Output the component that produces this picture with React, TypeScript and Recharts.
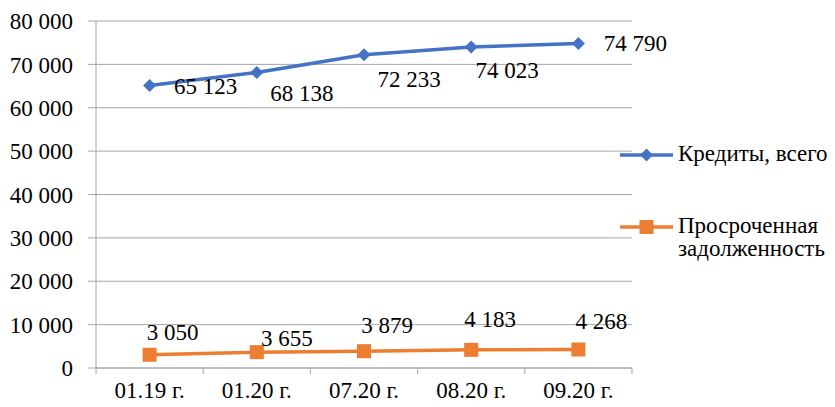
import React from 'react';
import { LineChart, Line, XAxis, YAxis, CartesianGrid, LabelList } from 'recharts';

const categories = ['01.19 г.', '01.20 г.', '07.20 г.', '08.20 г.', '09.20 г.'];
const credits = [65123, 68138, 72233, 74023, 74790];
const overdue = [3050, 3655, 3879, 4183, 4268];
const yTicks = [0, 10000, 20000, 30000, 40000, 50000, 60000, 70000, 80000];
const seriesNames = ['Кредиты, всего', 'Просроченная задолженность'];

// hand-placed label offsets, as in the source chart
const creditsLabelDx = [56, 45, 45, 36, 57];
const creditsLabelDy = [1, 21, 25, 24, 0];
const overdueLabelDx = [23, 30, 23, 19, 23];
const overdueLabelDy = [-22, -14, -26, -30, -28];

const data = categories.map((period, i) => ({
  period,
  credits: credits[i],
  overdue: overdue[i],
}));

const FONT = "'Liberation Serif', 'Times New Roman', Times, Tinos, 'DejaVu Serif', 'Noto Serif', serif";
const BLUE = '#4472C4';
const ORANGE = '#ED7D31';
const GRID = '#A6A6A6';
const HALF_BAND = 53.6;

const fmt = (n: number) => String(n).replace(/\B(?=(\d{3})+(?!\d))/g, ' ');

const Diamond = (props: any) => {
  const { cx, cy } = props;
  if (cx == null || cy == null) return null;
  const r = 6.5;
  return <path d={`M${cx},${cy - r}L${cx + r},${cy}L${cx},${cy + r}L${cx - r},${cy}Z`} fill={BLUE} />;
};

const Square = (props: any) => {
  const { cx, cy } = props;
  if (cx == null || cy == null) return null;
  return <rect x={cx - 7} y={cy - 7} width={14} height={14} fill={ORANGE} />;
};

const XTick = (props: any) => {
  const { x, y, payload, index } = props;
  const axisY = y - 6;
  return (
    <g>
      <line x1={x - HALF_BAND} x2={x - HALF_BAND} y1={axisY} y2={axisY + 6} stroke={GRID} />
      {index === categories.length - 1 && (
        <line x1={x + HALF_BAND} x2={x + HALF_BAND} y1={axisY} y2={axisY + 6} stroke={GRID} />
      )}
      <text x={x} y={axisY + 22} textAnchor="middle" dominantBaseline="central" style={{ fontFamily: FONT, fontSize: 23 }} fill="#000">
        {payload.value}
      </text>
    </g>
  );
};

const makeLabel = (dxs: number[], dys: number[]) => (props: any) => {
  const { x, y, value, index } = props;
  return (
    <text
      x={x + dxs[index]}
      y={y + dys[index]}
      textAnchor="middle"
      dominantBaseline="central"
      style={{ fontFamily: FONT, fontSize: 23 }}
      fill="#000"
    >
      {fmt(value)}
    </text>
  );
};

export default function App() {
  return (
    <div style={{ position: 'absolute', left: 0, top: 0, width: 835, height: 407, background: '#fff', fontFamily: FONT }}>
      <LineChart width={835} height={407} data={data} margin={{ top: 21, right: 203, bottom: 0, left: 0 }} style={{ fontFamily: FONT }}>
        <CartesianGrid vertical={false} stroke={GRID} />
        <XAxis
          dataKey="period"
          height={39}
          interval={0}
          padding={{ left: HALF_BAND, right: HALF_BAND }}
          tickLine={false}
          tickSize={6}
          tickMargin={0}
          axisLine={{ stroke: GRID }}
          tick={<XTick />}
        />
        <YAxis
          width={96}
          domain={[0, 80000]}
          ticks={yTicks}
          interval={0}
          tickSize={8}
          tickMargin={15}
          axisLine={{ stroke: GRID }}
          tickLine={{ stroke: GRID }}
          tickFormatter={fmt}
          tick={{ fill: '#000', fontSize: 23, fontFamily: FONT }}
        />
        <Line
          dataKey="credits"
          name={seriesNames[0]}
          stroke={BLUE}
          strokeWidth={3.5}
          dot={<Diamond />}
          activeDot={false}
          isAnimationActive={false}
        >
          <LabelList dataKey="credits" content={makeLabel(creditsLabelDx, creditsLabelDy)} />
        </Line>
        <Line
          dataKey="overdue"
          name={seriesNames[1]}
          stroke={ORANGE}
          strokeWidth={3.5}
          dot={<Square />}
          activeDot={false}
          isAnimationActive={false}
        >
          <LabelList dataKey="overdue" content={makeLabel(overdueLabelDx, overdueLabelDy)} />
        </Line>
      </LineChart>
      <div style={{ position: 'absolute', left: 620, top: 142, fontFamily: FONT, fontSize: 23, lineHeight: '23px', color: '#000' }}>
        <div style={{ display: 'flex', alignItems: 'flex-start' }}>
          <svg width={58} height={26} style={{ flex: 'none' }}>
            <line x1={0} x2={53} y1={13} y2={13} stroke={BLUE} strokeWidth={3.5} />
            <Diamond cx={26.5} cy={13} />
          </svg>
          <span style={{ whiteSpace: 'nowrap' }}>{seriesNames[0]}</span>
        </div>
        <div style={{ display: 'flex', alignItems: 'flex-start', marginTop: 46 }}>
          <svg width={58} height={26} style={{ flex: 'none' }}>
            <line x1={0} x2={53} y1={13} y2={13} stroke={ORANGE} strokeWidth={3.5} />
            <Square cx={26.5} cy={13} />
          </svg>
          <span style={{ width: 160 }}>{seriesNames[1]}</span>
        </div>
      </div>
    </div>
  );
}
